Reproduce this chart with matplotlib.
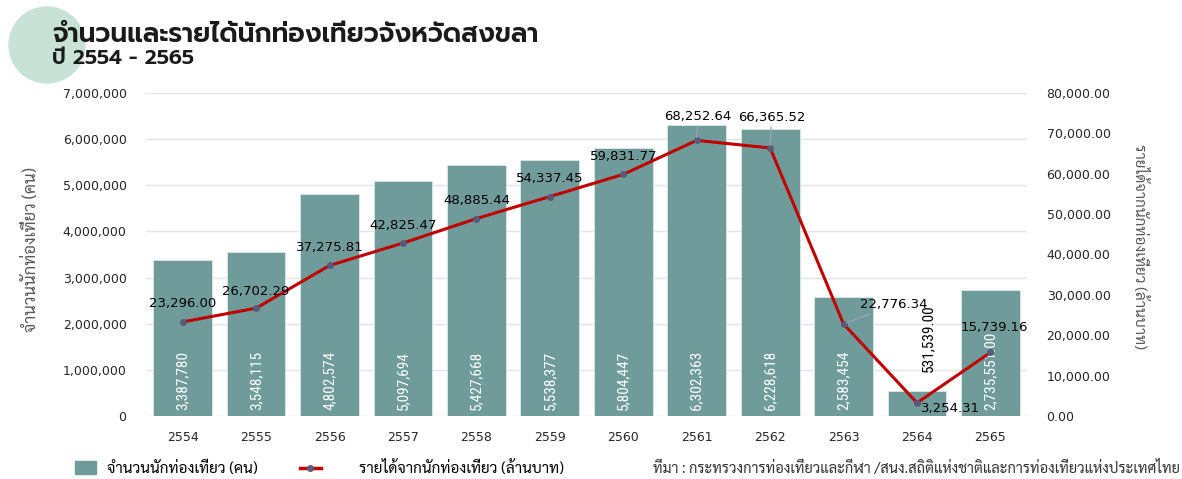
import matplotlib
matplotlib.use("Agg")
import matplotlib.pyplot as plt
from matplotlib import font_manager
from matplotlib.patches import Ellipse, Patch
from matplotlib.lines import Line2D
from matplotlib.ticker import FuncFormatter
import numpy as np

# data
years = ["2554", "2555", "2556", "2557", "2558", "2559",
         "2560", "2561", "2562", "2563", "2564", "2565"]
tourists = [3387780, 3548115, 4802574, 5097694, 5427668, 5538377,
            5804447, 6302363, 6228618, 2583454, 531539, 2735551]
tourist_labels = ["3,387,780", "3,548,115", "4,802,574", "5,097,694", "5,427,668",
                  "5,538,377", "5,804,447", "6,302,363", "6,228,618", "2,583,454",
                  "531,539.00", "2,735,551.00"]
income = [23296.00, 26702.29, 37275.81, 42825.47, 48885.44, 54337.45,
          59831.77, 68252.64, 66365.52, 22776.34, 3254.31, 15739.16]


def first_installed(names):
    for n in names:
        try:
            font_manager.findfont(font_manager.FontProperties(family=n),
                                  fallback_to_default=False)
            return n
        except ValueError:
            pass
    return "DejaVu Sans"


BAR = "#6f9c9a"
RED = "#c00000"
GRID = "#e4e4ea"
TXT = "#262626"
THAI = ["Sarabun", "DejaVu Sans"]
TITLE = [first_installed(["Prompt", "Kanit", "Noto Sans Thai"]), "DejaVu Sans"]
NARROW = [first_installed(["Liberation Sans Narrow", "Roboto Condensed",
                           "Open Sans Condensed", "Archivo Narrow", "Athiti"]), "DejaVu Sans"]

fig = plt.figure(figsize=(11.82, 4.79), dpi=100)
ax = fig.add_axes([0.1235, 0.1315, 0.7455, 0.6745])
x = np.arange(len(years))

# title with the pale circle behind it
fig.patches.append(Ellipse((47 / 1182, 1 - 45 / 479), 76 / 1182, 76 / 479,
                           transform=fig.transFigure, color="#c8e2d8", zorder=0))
fig.text(52 / 1182, 1 - 35 / 479, "จำนวนและรายได้นักท่องเที่ยวจังหวัดสงขลา",
         family=TITLE, fontsize=19, weight="semibold", color="#1a1a1a", va="center")
fig.text(52 / 1182, 1 - 58 / 479, "ปี 2554 - 2565",
         family=TITLE, fontsize=15, weight="semibold", color="#1a1a1a", va="center")

# bars
ax.bar(x, tourists, width=0.8, color=BAR, edgecolor="#dfe9e8", linewidth=0.6, zorder=2)
ax.set_xlim(-0.5, 11.5)
ax.set_ylim(0, 7000000)
ax.set_yticks(np.arange(0, 7000001, 1000000))
ax.yaxis.set_major_formatter(FuncFormatter(lambda v, p: f"{v:,.0f}"))
ax.set_xticks(x)
ax.set_xticklabels(years)
ax.grid(axis="y", color=GRID, linewidth=1, zorder=0)
ax.set_axisbelow(True)
for s in ax.spines.values():
    s.set_visible(False)
ax.tick_params(axis="both", length=0, labelsize=9, colors=TXT)
ax.tick_params(axis="y", pad=14)
ax.tick_params(axis="x", pad=11)
ax.set_ylabel("จำนวนนักท่องเที่ยว (คน)", family=THAI, fontsize=12, color="#595959")
ax.yaxis.set_label_coords(-0.12, 0.514)

for i, (v, lab) in enumerate(zip(tourists, tourist_labels)):
    if v < 1000000:
        ax.annotate(lab, (i, v), xytext=(8, 14), textcoords="offset points",
                    rotation=90, ha="center", va="bottom", family=NARROW,
                    fontsize=11, color="black", zorder=5)
    else:
        ax.annotate(lab, (i, 0), xytext=(0, 4.5), textcoords="offset points",
                    rotation=90, ha="center", va="bottom", family=NARROW,
                    fontsize=11, color="white", zorder=5)

# income line on the right axis
ax2 = ax.twinx()
ax2.plot(x, income, color=RED, linewidth=2.2, marker="o", markersize=4,
         markerfacecolor="#5a5a78", markeredgecolor="#5a5a78", zorder=3)
ax2.set_ylim(0, 80000)
ax2.set_yticks(np.arange(0, 80001, 10000))
ax2.yaxis.set_major_formatter(FuncFormatter(lambda v, p: f"{v:,.2f}"))
for s in ax2.spines.values():
    s.set_visible(False)
ax2.tick_params(axis="y", length=0, labelsize=9, colors=TXT, pad=14)
ax2.set_ylabel("รายได้จากนักท่องเที่ยว (ล้านบาท)", family=THAI, fontsize=11,
               color="#595959", rotation=-90, va="center")
ax2.yaxis.set_label_coords(1.128, 0.526)

# value labels: (dx, dy) offsets in points, leader line or not
offsets = [(0, 13), (0, 12), (0, 13), (0, 13), (0, 13), (0, 13),
           (0, 13), (1, 17), (1, 22), (12, 14), (3, -4), (3, 18)]
leaders = [False] * 7 + [True, True, True, False, False]
for i, (v, (dx, dy), lead) in enumerate(zip(income, offsets, leaders)):
    ha = "center" if dx < 5 else "left"
    if i == 10:
        ha = "left"
    arrow = dict(arrowstyle="-", color="#9aa3bb", lw=0.9, shrinkA=0, shrinkB=2) if lead else None
    ax2.annotate(f"{v:,.2f}", (i, v), xytext=(dx, dy), textcoords="offset points",
                 ha=ha, va="center", fontsize=9.5, color="black",
                 arrowprops=arrow, zorder=6)

# legend and source line along the bottom
h1 = Patch(facecolor=BAR, edgecolor=BAR)
h2 = Line2D([], [], color=RED, linewidth=2.5, marker="o", markersize=4,
            markerfacecolor="#5a5a78", markeredgecolor="#5a5a78")
fig.legend([h1], ["จำนวนนักท่องเที่ยว (คน)"], loc="center left",
           bbox_to_anchor=(61 / 1182, 11 / 479), frameon=False, handlelength=1.4,
           handleheight=1.0, handletextpad=0.7, prop={"family": THAI, "size": 11})
fig.legend([h2], ["รายได้จากนักท่องเที่ยว (ล้านบาท)"], loc="center left",
           bbox_to_anchor=(286 / 1182, 11 / 479), frameon=False, handlelength=1.4,
           handletextpad=2.5, prop={"family": THAI, "size": 11})
fig.text(1180 / 1182, 11 / 479,
         "ที่มา : กระทรวงการท่องเที่ยวและกีฬา /สนง.สถิติแห่งชาติและการท่องเที่ยวแห่งประเทศไทย",
         family=THAI, fontsize=10.5, color="#333333", ha="right", va="center")

fig.savefig("out.png", dpi=100)
